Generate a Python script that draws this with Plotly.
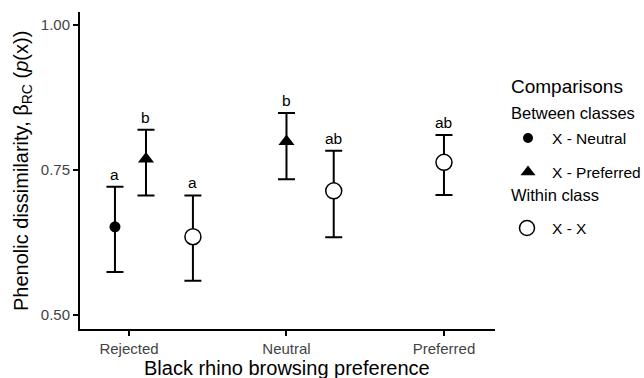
import plotly.graph_objects as go

# ---- data ----
categories = ["Rejected", "Neutral", "Preferred"]
cat_pos = [1, 2, 3]

# Between classes: X - Neutral
neu_x = [0.911]
neu_y = [0.652]
neu_lo = [0.574]
neu_hi = [0.721]
neu_lab = ["a"]

# Between classes: X - Preferred
pref_x = [1.108, 2.0]
pref_y = [0.769, 0.799]
pref_lo = [0.706, 0.734]
pref_hi = [0.819, 0.848]
pref_lab = ["b", "b"]

# Within class: X - X
within_x = [1.406, 2.30, 3.0]
within_y = [0.635, 0.714, 0.763]
within_lo = [0.559, 0.634, 0.707]
within_hi = [0.706, 0.783, 0.810]
within_lab = ["a", "ab", "ab"]

FONT = "Liberation Sans, Arial, sans-serif"
W, H = 644, 378
ML, MR, MT, MB = 80, 10, 12, 49
PW = W - ML - MR
PH = H - MT - MB
MAIN_RIGHT = 495


def px_x(px):
    return (px - ML) / PW


def px_y(py):
    return (H - MB - py) / PH


fig = go.Figure()


def add_series(xs, ys, lo, hi, symbol, size, fill, line_w):
    fig.add_trace(go.Scatter(
        x=xs, y=ys, mode="markers", showlegend=False,
        marker=dict(symbol=symbol, size=size, color=fill,
                    line=dict(color="black", width=line_w)),
        error_y=dict(type="data", symmetric=False,
                     array=[h - y for h, y in zip(hi, ys)],
                     arrayminus=[y - l for l, y in zip(lo, ys)],
                     color="black", thickness=2, width=8.5),
        xaxis="x", yaxis="y",
    ))


add_series(neu_x, neu_y, neu_lo, neu_hi, "circle", 11, "black", 0)
add_series(pref_x, pref_y, pref_lo, pref_hi, "triangle-up", 14, "black", 0)
add_series(within_x, within_y, within_lo, within_hi, "circle", 16, "white", 1.5)

annotations = []
for xs, hs, labs in [(neu_x, neu_hi, neu_lab), (pref_x, pref_hi, pref_lab),
                     (within_x, within_hi, within_lab)]:
    for x, h, t in zip(xs, hs, labs):
        annotations.append(dict(x=x, y=h, xref="x", yref="y", text=t,
                                showarrow=False, yanchor="bottom", yshift=2,
                                font=dict(family=FONT, size=15.5, color="black")))

# ---- axis titles ----
annotations.append(dict(x=px_x(287), y=px_y(368), xref="paper", yref="paper",
                        text="Black rhino browsing preference", showarrow=False,
                        xanchor="center", yanchor="middle",
                        font=dict(family=FONT, size=20, color="black")))
annotations.append(dict(x=px_x(22), y=px_y(171), xref="paper", yref="paper",
                        text="Phenolic dissimilarity, β<sub>RC</sub> (<i>p</i>(x))",
                        showarrow=False, textangle=-90,
                        xanchor="center", yanchor="middle",
                        font=dict(family=FONT, size=20, color="black")))

# ---- legend (drawn manually) ----
leg_x = [528, 528, 527]
leg_y = [138, 172, 228]
fig.add_trace(go.Scatter(
    x=leg_x[:1], y=leg_y[:1], mode="markers", showlegend=False,
    marker=dict(symbol="circle", size=10, color="black"),
    xaxis="x2", yaxis="y2", hoverinfo="skip"))
fig.add_trace(go.Scatter(
    x=leg_x[1:2], y=leg_y[1:2], mode="markers", showlegend=False,
    marker=dict(symbol="triangle-up", size=13, color="black"),
    xaxis="x2", yaxis="y2", hoverinfo="skip"))
fig.add_trace(go.Scatter(
    x=leg_x[2:], y=leg_y[2:], mode="markers", showlegend=False,
    marker=dict(symbol="circle", size=15, color="white",
                line=dict(color="black", width=1.5)),
    xaxis="x2", yaxis="y2", hoverinfo="skip"))

legend_texts = [
    ("Comparisons", 509, 87, 19),
    ("Between classes", 509, 113, 16.5),
    ("X - Neutral", 550, 138, 15.5),
    ("X - Preferred", 550, 173, 15.5),
    ("Within class", 509, 195, 16.5),
    ("X - X", 550, 228, 15.5),
]
for t, x, y, s in legend_texts:
    annotations.append(dict(x=px_x(x), y=px_y(y), xref="paper", yref="paper",
                            text=t, showarrow=False, xanchor="left",
                            yanchor="middle",
                            font=dict(family=FONT, size=s, color="black")))

x2_lo = ML + 0.76 * PW
fig.update_layout(
    width=W, height=H,
    margin=dict(l=ML, r=MR, t=MT, b=MB, autoexpand=False),
    paper_bgcolor="white", plot_bgcolor="white",
    font=dict(family=FONT, color="black"),
    annotations=annotations,
    xaxis=dict(domain=[0, (MAIN_RIGHT - ML) / PW], range=[0.689, 3.324],
               tickmode="array", tickvals=cat_pos, ticktext=categories,
               showline=True, linecolor="black", linewidth=2,
               ticks="outside", ticklen=5, tickwidth=1.5, tickcolor="black",
               tickfont=dict(family=FONT, size=15, color="#444444"),
               showgrid=False, zeroline=False, automargin=False),
    yaxis=dict(range=[0.476, 1.022],
               tickmode="array", tickvals=[0.5, 0.75, 1.0],
               ticktext=["0.50", "0.75", "1.00"],
               showline=True, linecolor="black", linewidth=2,
               ticks="outside", ticklen=5, tickwidth=1.5, tickcolor="black",
               tickfont=dict(family=FONT, size=15, color="#444444"),
               showgrid=False, zeroline=False, automargin=False),
    xaxis2=dict(domain=[0.76, 1], range=[x2_lo, ML + PW], visible=False,
                anchor="y2", fixedrange=True),
    yaxis2=dict(domain=[0, 1], range=[H - MB, MT], visible=False,
                anchor="x2", fixedrange=True),
)

fig.write_html("out.html")
